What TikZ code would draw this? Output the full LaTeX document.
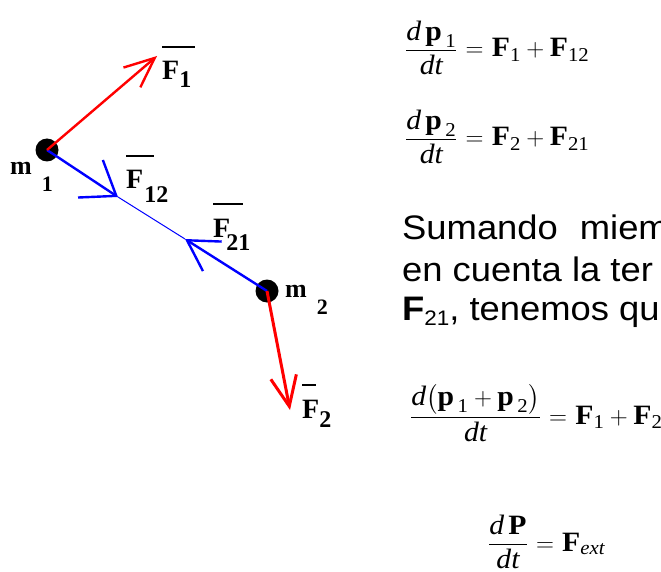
\documentclass[tikz,border=0pt]{standalone}
\usepackage{amsmath}
\usepackage{fontspec}
\setmainfont{Liberation Serif}
\newfontfamily\eqfont[FakeStretch=1.06]{Liberation Serif}
\newfontfamily\arialf[FakeStretch=1.07]{Liberation Sans}
\usetikzlibrary{arrows.meta,calc}

% label F with overline and lowered subscript: #1 sub, #2 overline width, #3 drop, #4 kern
\newcommand\flab[4]{\rlap{\rule[32pt]{#2}{1.6pt}}F\kern#4\raisebox{-#3}{\fontsize{24}{24}\selectfont #1}}
\newcommand\mlab[1]{m\hspace{10pt}\raisebox{-17pt}{\fontsize{22}{22}\selectfont #1}}
\newcommand\eqspacing{\thickmuskip=6mu\relax\medmuskip=4mu\relax}

\tikzset{
  dot/.style={circle,fill=black,inner sep=0pt,minimum size=23pt},
  redvec/.style={draw=red,line width=2.4pt},
  bluevec/.style={draw=blue,line width=2.4pt},
  thinblue/.style={draw=blue,line width=1pt},
  lab/.style={inner sep=0pt,anchor=base west,font=\fontsize{28}{30}\selectfont\bfseries},
  mass/.style={inner sep=0pt,anchor=base west,font=\fontsize{26}{28}\selectfont\bfseries},
  eq/.style={inner sep=0pt,anchor=base west,font=\eqfont\fontsize{28}{32}\selectfont},
  txt/.style={inner sep=0pt,anchor=base west,font=\arialf\fontsize{34}{40}\selectfont},
}

\begin{document}
\begin{tikzpicture}[x=1pt,y=-1pt]
\useasboundingbox (0,0) rectangle (661,572);
\clip (0,0) rectangle (661,572);

% masses
\node[dot] (m1) at (47,150) {};
\node[dot] (m2) at (267,291) {};

% arrow tips
\coordinate (t1) at (157,56);
\coordinate (t12) at (118,197);
\coordinate (t21) at (185,239);
\coordinate (t2) at (290,410);

% connecting line
\draw[thinblue] (t12) -- (t21);
\draw[bluevec,-{Straight Barb[length=31pt,width=45pt]}] (m1.center) -- (t12);
\draw[bluevec,-{Straight Barb[length=30pt,width=35pt]}] (m2.center) -- (t21);
\draw[redvec,-{Straight Barb[length=30pt,width=26pt]}] (m1.center) -- (t1);
\draw[redvec,line width=3pt,-{Straight Barb[length=30pt,width=26pt]}] (m2.center) -- (t2);

% labels
\node[lab] (lF1) at (162,80) {\flab{1}{33pt}{8pt}{0pt}};
\node[lab] (lF12) at (126,189) {\flab{12}{28pt}{14pt}{1pt}};
\node[lab] (lF21) at (213,237) {\flab{21}{30pt}{13pt}{-4pt}};
\node[lab] (lF2) at (302,418) {\flab{2}{14pt}{9pt}{0pt}};
\node[mass] (lm1) at (10,175) {\mlab{1}};
\node[mass] (lm2) at (285,297) {\mlab{2}};

% equations
\node[eq] (e1) at (405,57) {$\eqspacing\dfrac{\textit{d}\,\textbf{p}_{\,\text{1}}}{\textit{dt}} = \textbf{F}_{\text{1}} + \textbf{F}_{\text{12}}$};
\node[eq] (e2) at (405,146) {$\eqspacing\dfrac{\textit{d}\,\textbf{p}_{\,\text{2}}}{\textit{dt}} = \textbf{F}_{\text{2}} + \textbf{F}_{\text{21}}$};

\node[txt] (s1) at (402,240) {Sumando\hspace{22pt}miem};
\node[txt] (s2) at (402,281) {en cuenta la ter};
\node[txt] (s3) at (402,320) {\textbf{F}\raisebox{-5pt}{\fontsize{21}{21}\selectfont 21}, tenemos qu};

\node[eq] (e3) at (410,424) {$\eqspacing\dfrac{\textit{d}\bigl(\textbf{p}_{\,\text{1}} + \textbf{p}_{\,\text{2}}\bigr)}{\textit{dt}} = \textbf{F}_{\text{1}} + \textbf{F}_{\text{2}}$};
\node[eq] (e4) at (488,551) {$\eqspacing\dfrac{\textit{d}\,\textbf{P}}{\textit{dt}} = \textbf{F}_{\textit{ext}}$};
\end{tikzpicture}
\end{document}
